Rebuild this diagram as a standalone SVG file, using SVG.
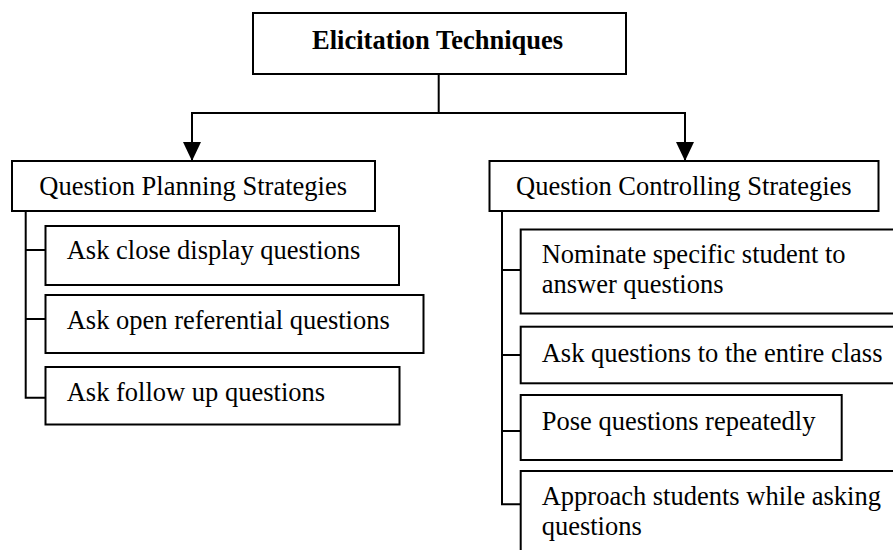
<svg xmlns="http://www.w3.org/2000/svg" width="893" height="550" viewBox="0 0 893 550">
<style>
  .box { fill: #fff; stroke: #000; stroke-width: 2; }
  .t { font-family: "Liberation Serif", "Times New Roman", serif; font-size: 26.5px; fill: #000; }
  .title { font-weight: bold; text-anchor: middle; }
  .conn { fill: none; stroke: #000; stroke-width: 2; }
</style>
<defs>
  <marker id="arrow" markerUnits="userSpaceOnUse" viewBox="0 0 19 18" refX="19" refY="9" markerWidth="19" markerHeight="18" orient="auto">
    <path d="M0,0 L19,9 L0,18 z" fill="#000"/>
  </marker>
</defs>
<rect width="893" height="550" fill="#fff"/>
<g id="connectors">
  <path class="conn" d="M438.7,74 V113"/>
  <path class="conn" d="M191,113 H686"/>
  <path class="conn" d="M192,113 V161" marker-end="url(#arrow)"/>
  <path class="conn" d="M685,113 V161" marker-end="url(#arrow)"/>
  <path class="conn" d="M25.7,211 V397.7 H45.5 M25.7,250 H45.5 M25.7,319 H45.5"/>
  <path class="conn" d="M502,211 V504.3 H520.7 M502,270 H520.7 M502,355 H520.7 M502,431 H520.7"/>
</g>
<g id="elicitation">
  <rect class="box" x="253" y="13" width="373" height="61"/>
  <text class="t title" x="437.6" y="49">Elicitation Techniques</text>
</g>
<g id="planning">
  <rect class="box" x="12" y="161" width="363" height="50"/>
  <text class="t" x="39.3" y="195">Question Planning Strategies</text>
</g>
<g id="controlling">
  <rect class="box" x="489.5" y="161" width="389" height="50"/>
  <text class="t" x="516" y="195">Question Controlling Strategies</text>
</g>
<g id="close-display">
  <rect class="box" x="45.5" y="226" width="353.5" height="59"/>
  <text class="t" x="66.7" y="259.3">Ask close display questions</text>
</g>
<g id="open-referential">
  <rect class="box" x="45.5" y="295" width="378" height="58"/>
  <text class="t" x="66.7" y="329.3">Ask open referential questions</text>
</g>
<g id="follow-up">
  <rect class="box" x="45.5" y="367" width="354" height="57.5"/>
  <text class="t" x="66.7" y="401">Ask follow up questions</text>
</g>
<g id="nominate">
  <rect class="box" x="520.7" y="229.5" width="400" height="84"/>
  <text class="t" x="541.7" y="262.7">Nominate specific student to</text>
  <text class="t" x="541.7" y="293.3">answer questions</text>
</g>
<g id="entire-class">
  <rect class="box" x="520.7" y="326.7" width="400" height="56.6"/>
  <text class="t" x="541.7" y="361.7">Ask questions to the entire class</text>
</g>
<g id="pose">
  <rect class="box" x="520.7" y="395" width="321" height="65"/>
  <text class="t" x="541.7" y="430">Pose questions repeatedly</text>
</g>
<g id="approach">
  <rect class="box" x="520.7" y="471" width="400" height="100"/>
  <text class="t" x="541.7" y="505">Approach students while asking</text>
  <text class="t" x="541.7" y="535">questions</text>
</g>
</svg>
